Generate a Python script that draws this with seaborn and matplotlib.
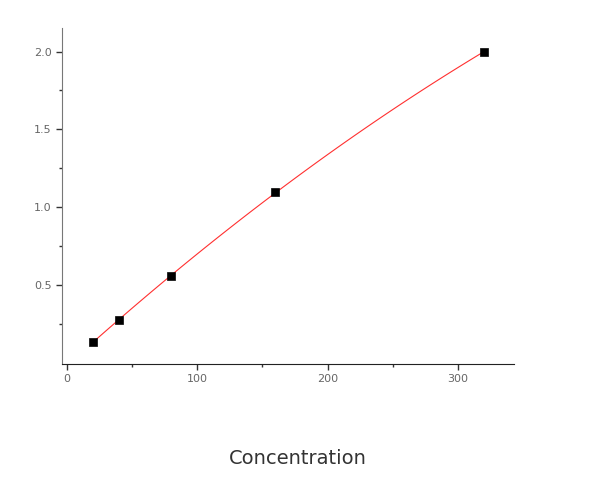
import matplotlib
matplotlib.use("Agg")
import matplotlib.pyplot as plt
import seaborn as sns
import pandas as pd
from matplotlib.ticker import MultipleLocator, FixedLocator

# standard curve readings
concentration = [20, 40, 80, 160, 320]
od_value = [0.135, 0.278, 0.558, 1.096, 2.0]

x_ticks = [0, 100, 200, 300]
y_ticks = [0.5, 1.0, 1.5, 2.0]
y_minor = [0.25, 0.75, 1.25, 1.75]

df = pd.DataFrame({"Concentration": concentration, "OD": od_value})

sns.set_style("white")
plt.rcParams['font.family'] = ['DejaVu Sans']

fig = plt.figure(figsize=(6, 5.04), dpi=100)
ax = fig.add_axes([0.103, 0.278, 0.754, 0.666])

# fitted curve + points
sns.regplot(data=df, x="Concentration", y="OD", order=2, ci=None, truncate=True,
            scatter=False, line_kws={"color": "#ff3030", "lw": 0.8}, ax=ax)
sns.scatterplot(data=df, x="Concentration", y="OD", marker="s", s=36,
                color="black", edgecolor="black", zorder=3, ax=ax)

ax.set_xlim(-3.8, 343)
ax.set_ylim(-0.006, 2.15)
ax.set_xticks(x_ticks)
ax.set_yticks(y_ticks)
ax.xaxis.set_minor_locator(MultipleLocator(50))
ax.yaxis.set_minor_locator(FixedLocator(y_minor))
ax.tick_params(which="major", direction="out", length=4, width=1, color="#333333",
               labelsize=8, labelcolor="#666666", left=True, bottom=True)
ax.tick_params(which="minor", direction="out", length=2, width=1, color="#333333",
               left=True, bottom=True)

sns.despine(ax=ax)
ax.spines["left"].set_color("#777777")
ax.spines["bottom"].set_color("#222222")
ax.set_xlabel("")
ax.set_ylabel("")

fig.text(298 / 600, 1 - 458 / 504, "Concentration", ha="center", va="center",
         fontsize=14, color="#333333")

fig.savefig("out.png", dpi=100)
